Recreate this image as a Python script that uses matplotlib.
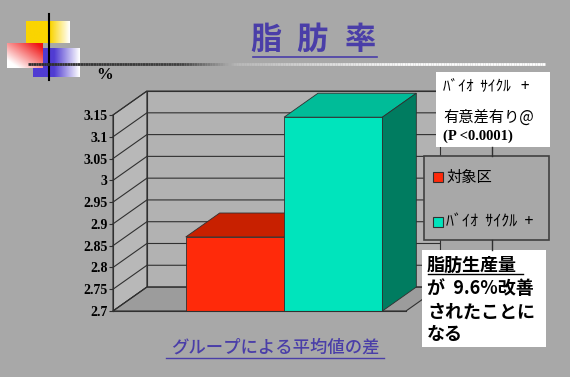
import numpy as np
import matplotlib
matplotlib.use('Agg')
import matplotlib.pyplot as plt
from matplotlib.patches import Rectangle, Polygon
from matplotlib.collections import LineCollection

# data
categories = ['対象区', 'ﾊﾞｲｵ  ｻｲｸﾙ  +']
values = [2.87, 3.145]
yticks = [2.7, 2.75, 2.8, 2.85, 2.9, 2.95, 3.0, 3.05, 3.1, 3.15]
ytick_labels = ['2.7', '2.75', '2.8', '2.85', '2.9', '2.95', '3', '3.05', '3.1', '3.15']
title = '脂肪率'
xlabel = 'グループによる平均値の差'
note_top = ['ﾊﾞｲｵ  ｻｲｸﾙ   +', '有意差有り@', '(P <0.0001)']
note_bottom = ['脂肪生産量', 'が  9.6%改善', 'されたことに', 'なる']

BG = '#a8a8a8'
WALL = '#b2b2b2'
FLOOR = '#9c9c9c'
FRONT = ['#ff2a0a', '#00e4bc']
TOP = ['#c82000', '#00bc98']
SIDE = ['#a01800', '#007c60']
BLUE = '#4a3ea8'
JP = ['Noto Sans CJK JP', 'DejaVu Sans']

fig = plt.figure(figsize=(5.7, 3.77), dpi=100)
fig.patch.set_facecolor(BG)

# decoration layer in pixel coords
deco = fig.add_axes([0, 0, 1, 1])
deco.set_xlim(0, 570)
deco.set_ylim(377, 0)
deco.axis('off')


def hgrad(c, solid, n=60):
    t = np.clip((np.linspace(0, 1, n) - solid) / (1 - solid), 0, 1)
    c = np.array(c) / 255
    return (c[None, :] * (1 - t[:, None]) + t[:, None])[None, :, :]


deco.imshow(hgrad((250, 212, 0), 0.55), extent=(26, 70, 43, 21), aspect='auto', zorder=1)
deco.imshow(hgrad((80, 60, 210), 0.45), extent=(33, 80, 77, 48), aspect='auto', zorder=2)
u, v = np.meshgrid(np.linspace(0, 1, 40), np.linspace(0, 1, 30))
t = np.clip((u + (1 - v)) / 2 * 1.3 - 0.2, 0, 1)
red = np.array([240, 20, 20]) / 255
img = t[..., None] * red + (1 - t[..., None])
deco.imshow(img, extent=(7, 43, 68, 43), aspect='auto', zorder=3)
deco.plot([49, 49], [14, 80], color='black', lw=1.5, zorder=4)

xs = np.linspace(28, 545, 200)
g = np.interp(xs, [28, 180, 235, 400, 545], [0.18, 0.25, 0.72, 0.98, 1.0])
segs = [[(xs[i], 64), (xs[i + 1], 64)] for i in range(len(xs) - 1)]
deco.add_collection(LineCollection(segs, colors=[(c, c, c) for c in g[:-1]], linewidths=2, zorder=4))

# title, letter-spaced
for ch, cx in zip(title, [266, 312, 360]):
    deco.text(cx, 40, ch, color=BLUE, fontsize=22.5, family=JP, weight='bold', ha='center', va='center')
deco.plot([253, 377], [57, 57], color=BLUE, lw=1.2)
deco.text(105, 75, '%', fontsize=12, family='Liberation Serif', weight='bold', ha='center', va='center')
deco.text(275, 348, xlabel, color=BLUE, fontsize=12.5, family=JP, weight='medium', ha='center', va='center')
deco.plot([166, 384], [358, 358], color=BLUE, lw=1)

# chart
ax = fig.add_axes([113 / 570, 1 - 311 / 377, (406 - 113) / 570, (311 - 115) / 377])
ax.patch.set_alpha(0)
x0, x1 = -1.24, 1.74
y0, y1 = yticks[0], yticks[-1]
DX, DY = 0.345, 0.055
ax.set_xlim(x0, x1)
ax.set_ylim(y0, y1)
lc = '#303030'

ax.add_patch(Rectangle((x0 + DX, y0 + DY), x1 - x0, y1 - y0, fc=WALL, ec=lc, lw=0.8, clip_on=False, zorder=1))
ax.add_patch(Polygon([(x0, y0), (x0 + DX, y0 + DY), (x0 + DX, y1 + DY), (x0, y1)],
                     fc='#b8b8b8', ec=lc, lw=0.8, clip_on=False, zorder=1))
ax.add_patch(Polygon([(x0, y0), (x1, y0), (x1 + DX, y0 + DY), (x0 + DX, y0 + DY)],
                     fc=FLOOR, ec=lc, lw=0.8, clip_on=False, zorder=1))
for tk in yticks:
    ax.plot([x0, x0 + DX, x1 + DX], [tk, tk + DY, tk + DY], color=lc, lw=0.8, clip_on=False, zorder=1.5)

pos = np.arange(len(values))
ax.bar(pos, np.array(values) - y0, bottom=y0, width=1.0, color=FRONT, ec=lc, lw=0.6, zorder=3)
for i, (p, val) in enumerate(zip(pos, values)):
    z = 2.5 if i == 0 else 3
    ax.add_patch(Polygon([(p - 0.5, val), (p - 0.5 + DX, val + DY), (p + 0.5 + DX, val + DY), (p + 0.5, val)],
                         fc=TOP[i], ec=lc, lw=0.6, clip_on=False, zorder=z))
    ax.add_patch(Polygon([(p + 0.5, y0), (p + 0.5 + DX, y0 + DY), (p + 0.5 + DX, val + DY), (p + 0.5, val)],
                         fc=SIDE[i], ec=lc, lw=0.6, clip_on=False, zorder=z))

for s in ['top', 'right']:
    ax.spines[s].set_visible(False)
for s in ['left', 'bottom']:
    ax.spines[s].set_color(lc)
    ax.spines[s].set_linewidth(0.8)
    ax.spines[s].set_zorder(4)
ax.set_xticks([])
ax.set_yticks(yticks)
ax.set_yticklabels(ytick_labels, family='Liberation Serif', weight='bold', fontsize=10)
ax.tick_params(axis='y', length=3, width=0.8, color=lc, pad=1)

# overlay: legend and notes
ov = fig.add_axes([0, 0, 1, 1])
ov.set_xlim(0, 570)
ov.set_ylim(377, 0)
ov.axis('off')
ov.patch.set_alpha(0)

ov.add_patch(Rectangle((436, 72), 114, 75, fc='white', ec='none'))
ov.text(443, 86, note_top[0], family=JP, fontsize=11, va='center')
ov.text(443, 117, note_top[1], family=JP, fontsize=11, va='center')
ov.text(443, 136, note_top[2], family='Liberation Serif', weight='bold', fontsize=10.5, va='center')
ov.plot([492, 492], [147, 156], color=lc, lw=1)

ov.add_patch(Rectangle((424, 156), 125, 84, fc=BG, ec='#404040', lw=1.2))
for i, (cat, ly) in enumerate(zip(categories, [177, 222])):
    ov.add_patch(Rectangle((433, ly - 5), 10, 10, fc=FRONT[i], ec=lc, lw=0.8))
    ov.text(446, ly, cat, family=JP, fontsize=11 if i == 0 else 11.5, va='center')
ov.plot([492, 492], [240, 250], color=lc, lw=1)

ov.add_patch(Rectangle((422, 250), 124, 97, fc='white', ec='none'))
for txt, ly in zip(note_bottom, [265, 289, 312, 334]):
    ov.text(427, ly, txt, family=JP, fontsize=13, weight='bold', va='center')
ov.plot([428, 523], [274, 274], color='black', lw=1)

fig.savefig('out.png', dpi=100, facecolor=BG)
